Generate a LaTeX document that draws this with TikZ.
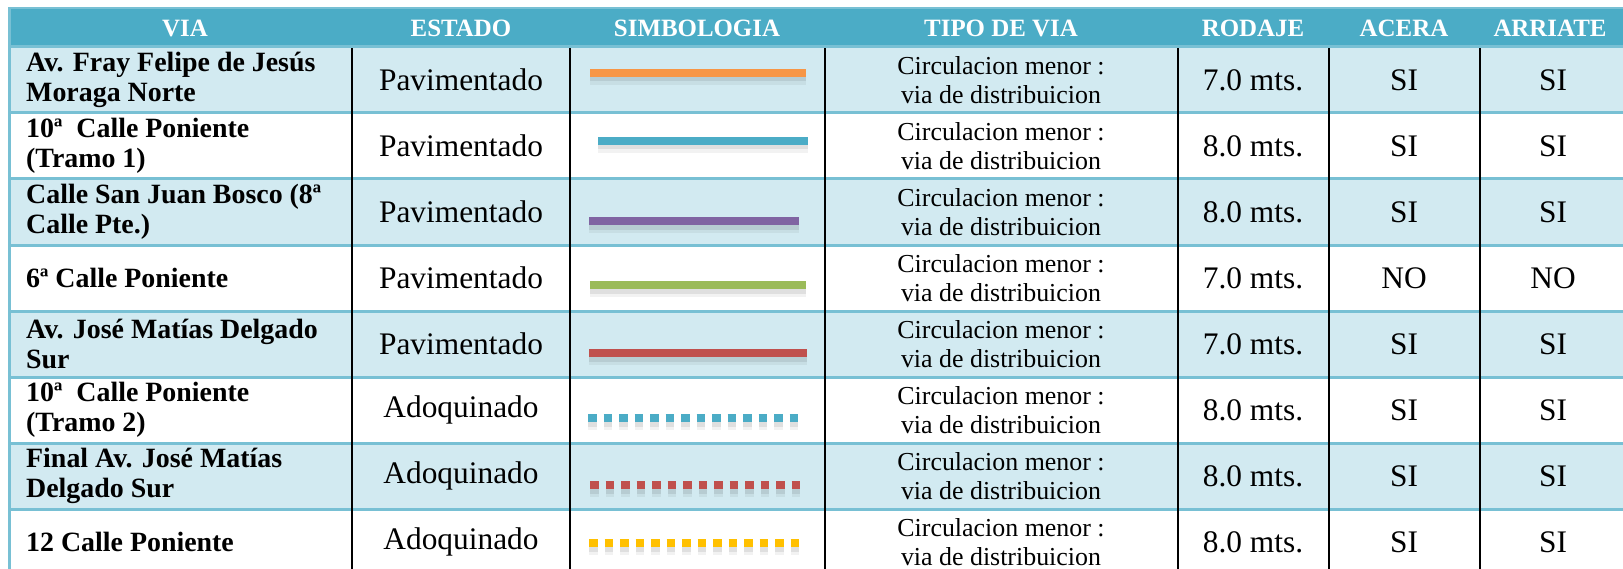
\documentclass[tikz,border=0pt]{standalone}
\usepackage{fontspec}
\setmainfont{Liberation Serif}
\definecolor{hdr}{HTML}{4BACC6}
\definecolor{rowshade}{HTML}{D2EAF1}
\definecolor{rulec}{HTML}{78C0D4}
\definecolor{cOrange}{HTML}{F79646}
\definecolor{cBlue}{HTML}{4BACC6}
\definecolor{cPurple}{HTML}{8064A2}
\definecolor{cGreen}{HTML}{9BBB59}
\definecolor{cRed}{HTML}{C0504D}
\definecolor{cYellow}{HTML}{FFC000}
\tikzset{
  hd/.style={inner sep=0, text=white, font=\fontsize{25}{30}\selectfont\bfseries},
  via/.style={inner sep=0, anchor=west, align=left, font=\fontsize{28}{30}\selectfont\bfseries},
  cell/.style={inner sep=0, font=\fontsize{31.5}{33}\selectfont},
  tipo/.style={inner sep=0, align=center, font=\fontsize{26}{29}\selectfont},
  sym/.style={line width=8bp},
  symdash/.style={line width=8bp, dash pattern=on 8.5bp off 7bp},
  shadowa/.style={line width=12bp, black, opacity=0.05},
  shadowb/.style={line width=7bp, black, opacity=0.08},
  rowline/.style={rulec, line width=3bp},
  colline/.style={black, line width=2.5bp}
}
\begin{document}
\begin{tikzpicture}[x=1bp,y=-1bp]
\useasboundingbox (0,0) rectangle (1623,569);
\fill[white] (0,0) rectangle (1623,569);
% header band and shaded rows
\fill[hdr] (9,8) rectangle (1623,47);
\foreach \a/\b in {47/113,179/245,311/377,443/509}{
  \fill[rowshade] (9,\a) rectangle (1623,\b);
}
% row separators and left border
\draw[rulec, line width=2bp] (9,8) -- (1623,8);
\foreach \y in {47,113,179,245,311,377,443,509}{
  \draw[rowline] (9,\y) -- (1623,\y);
}
\draw[rowline] (9,7) -- (9,569);
% column dividers
\foreach \x in {352,570,825,1178,1329,1480}{
  \draw[colline] (\x,48.5) -- (\x,569);
}
% header texts
\node[hd] (hvia) at (185,28) {VIA};
\node[hd] (hest) at (461,28) {ESTADO};
\node[hd] (hsim) at (697,28) {SIMBOLOGIA};
\node[hd] (htip) at (1001,28) {TIPO DE VIA};
\node[hd] (hrod) at (1253,28) {RODAJE};
\node[hd] (hace) at (1404,28) {ACERA};
\node[hd] (harr) at (1550,28) {ARRIATE};
% rows
\foreach \i/\c/\vtxt/\est/\rod/\ac/\ar in {
  1/80/{Av. Fray Felipe de Jesús\\Moraga Norte}/Pavimentado/7.0 mts./SI/SI,
  2/146/{10ª\ \ Calle Poniente\\(Tramo 1)}/Pavimentado/8.0 mts./SI/SI,
  3/212/{Calle San Juan Bosco (8ª\\Calle Pte.)}/Pavimentado/8.0 mts./SI/SI,
  4/278/{6ª Calle Poniente}/Pavimentado/7.0 mts./NO/NO,
  5/344/{Av. José Matías Delgado\\Sur}/Pavimentado/7.0 mts./SI/SI,
  6/410/{10ª\ \ Calle Poniente\\(Tramo 2)}/Adoquinado/8.0 mts./SI/SI,
  7/476/{Final Av. José Matías\\Delgado Sur}/Adoquinado/8.0 mts./SI/SI,
  8/542/{12 Calle Poniente}/Adoquinado/8.0 mts./SI/SI}{
  \node[via] (via\i) at (26,\c) {\vtxt};
  \node[cell] (est\i) at (461,\c) {\est};
  \node[tipo] (tip\i) at (1001,\c) {Circulacion menor :\\via de distribuicion};
  \node[cell] (rod\i) at (1253,\c) {\rod};
  \node[cell] (ace\i) at (1404,\c) {\ac};
  \node[cell] (arr\i) at (1553,\c) {\ar};
}
% symbology lines
\foreach \xa/\xb/\y/\col/\st in {
  590/806/73/cOrange/sym,
  598/808/141/cBlue/sym,
  589/799/221/cPurple/sym,
  590/806/285/cGreen/sym,
  589/807/353/cRed/sym,
  588/799/418/cBlue/symdash,
  590/800/485/cRed/symdash,
  589/800/543/cYellow/symdash}{
  \draw[\st,shadowa] (\xa,\y+6) -- (\xb,\y+6);
  \draw[\st,shadowb] (\xa,\y+5) -- (\xb,\y+5);
  \draw[\st,\col] (\xa,\y) -- (\xb,\y);
}
\end{tikzpicture}
\end{document}
